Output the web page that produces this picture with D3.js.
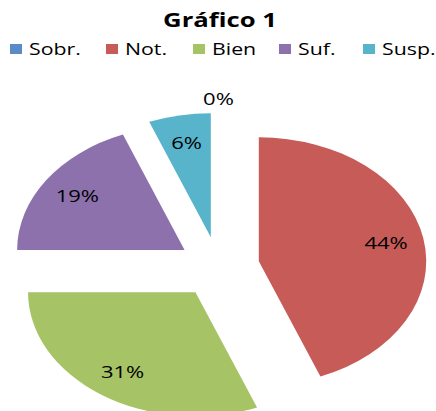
<!DOCTYPE html>
<html>
<head>
<meta charset="utf-8">
<script src="https://cdn.jsdelivr.net/npm/d3@7"></script>
<style>
  body { margin: 0; background: #fff; }
  text { font-family: "Open Sans", sans-serif; fill: #000; }
</style>
</head>
<body>
<div id="chart"></div>
<script>
const categories = ['Sobr.', 'Not.', 'Bien', 'Suf.', 'Susp.'];
const values = [0, 44, 31, 19, 6];
const labels = ['0%', '44%', '31%', '19%', '6%'];
const colors = ['#5A8BC6', '#C75B58', '#A6C365', '#8C71AD', '#57B4CB'];

const width = 436;
const height = 411;
const stretch = 1.35;   // the original is stretched horizontally
const radius = 124;
const explode = 30.4;
const cx = 218.5, cy = 267;

const svg = d3.select('#chart')
    .append('svg')
    .attr('width', width)
    .attr('height', height);

// title
svg.append('text')
    .attr('transform', `translate(220,27) scale(${stretch},1)`)
    .attr('text-anchor', 'middle')
    .style('font-size', '19px')
    .style('font-weight', 'bold')
    .text('Gráfico 1');

// legend
const legendX = [10, 106, 193, 279, 363];
const legend = svg.selectAll('g.legend')
    .data(categories)
    .enter()
    .append('g')
    .attr('class', 'legend')
    .attr('transform', (d, i) => `translate(${legendX[i]},44)`);

legend.append('rect')
    .attr('width', 12)
    .attr('height', 10)
    .attr('fill', (d, i) => colors[i]);

legend.append('text')
    .attr('transform', `translate(19,10.5) scale(${stretch},1)`)
    .style('font-size', '15.8px')
    .text(d => d);

// pie
const pie = d3.pie().sort(null).value(d => d)(values);
const arc = d3.arc().innerRadius(0).outerRadius(radius);
const labelArc = d3.arc().innerRadius(96).outerRadius(96);
const zeroArc = d3.arc().innerRadius(138).outerRadius(138);

const offset = d => {
    const a = (d.startAngle + d.endAngle) / 2;
    return [Math.sin(a) * explode, -Math.cos(a) * explode];
};

const g = svg.append('g')
    .attr('transform', `translate(${cx},${cy}) scale(${stretch},1)`);

g.selectAll('path')
    .data(pie)
    .enter()
    .append('path')
    .attr('d', arc)
    .attr('fill', (d, i) => colors[i])
    .attr('transform', d => `translate(${offset(d)})`);

// labels: placed in pie coords, then stretched like the pie
svg.selectAll('text.lab')
    .data(pie)
    .enter()
    .append('text')
    .attr('class', 'lab')
    .attr('text-anchor', 'middle')
    .style('font-size', '16.3px')
    .attr('transform', d => {
        const c = (d.value > 0 ? labelArc : zeroArc).centroid(d);
        const o = offset(d);
        const x = cx + (c[0] + o[0]) * stretch;
        const y = cy + c[1] + o[1] + 6;
        return `translate(${x},${y}) scale(${stretch},1)`;
    })
    .text((d, i) => labels[i]);
</script>
</body>
</html>
